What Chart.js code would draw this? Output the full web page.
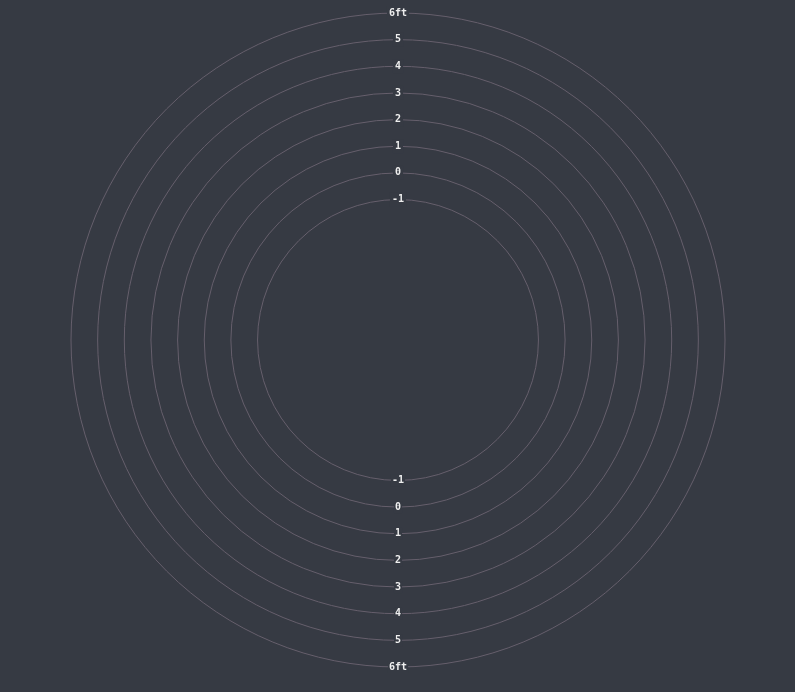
<!DOCTYPE html>
<html>
<head>
<meta charset="utf-8">
<script src="https://cdn.jsdelivr.net/npm/chart.js@4/dist/chart.umd.min.js"></script>
<style>
html, body { margin: 0; padding: 0; background: #363a43; }
#wrap { width: 795px; height: 692px; }
</style>
</head>
<body>
<div id="wrap"><canvas id="tideChart"></canvas></div>
<script>
// ring values (feet) and their labels
const tickValues = [-1, 0, 1, 2, 3, 4, 5, 6];
const tickLabels = ['-1', '0', '1', '2', '3', '4', '5', '6ft'];
const scaleMin = -6.27;
const scaleMax = 6;

const bg = '#363a43';
const ringColor = '#665f6c';
const labelColor = '#eeeeee';
const labelFont = { family: 'DejaVu Sans Mono', size: 10, weight: 'bold' };

/* mirror the tick labels below the centre */
const bottomLabels = {
  id: 'bottomLabels',
  afterDraw(chart) {
    const scale = chart.scales.r;
    const ctx = chart.ctx;
    ctx.save();
    ctx.font = 'bold 10px "DejaVu Sans Mono"';
    ctx.textAlign = 'center';
    ctx.textBaseline = 'middle';
    tickValues.forEach(function (v, i) {
      const y = scale.yCenter + scale.getDistanceFromCenterForValue(v);
      const w = ctx.measureText(tickLabels[i]).width;
      ctx.fillStyle = bg;
      ctx.fillRect(scale.xCenter - w / 2 - 1, y - 6, w + 2, 12);
      ctx.fillStyle = labelColor;
      ctx.fillText(tickLabels[i], scale.xCenter, y);
    });
    ctx.restore();
  }
};

new Chart(document.getElementById('tideChart'), {
  type: 'polarArea',
  data: {
    labels: [],
    datasets: [{ data: [] }]
  },
  options: {
    responsive: true,
    maintainAspectRatio: false,
    animation: false,
    layout: { padding: { top: 6, bottom: 18, left: 1, right: 0 } },
    plugins: {
      legend: { display: false },
      tooltip: { enabled: false }
    },
    scales: {
      r: {
        type: 'radialLinear',
        min: scaleMin,
        max: scaleMax,
        grid: { color: ringColor, lineWidth: 1 },
        angleLines: { display: false },
        pointLabels: { display: false },
        afterBuildTicks: function (scale) {
          scale.ticks = tickValues.map(function (v) { return { value: v }; });
        },
        ticks: {
          z: 1,
          color: labelColor,
          font: labelFont,
          showLabelBackdrop: true,
          backdropColor: bg,
          backdropPadding: 2,
          callback: function (value) {
            return tickLabels[tickValues.indexOf(value)];
          }
        }
      }
    }
  },
  plugins: [bottomLabels]
});
</script>
</body>
</html>
